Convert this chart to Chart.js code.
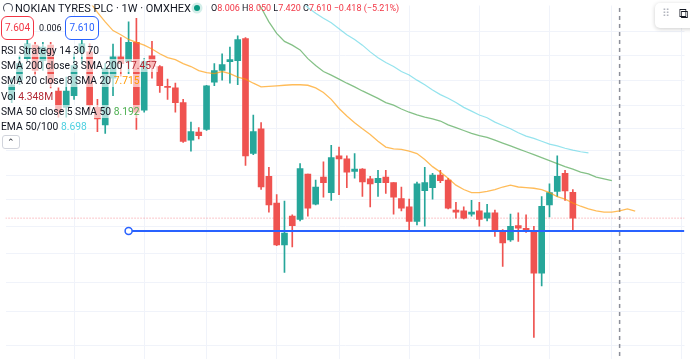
<!DOCTYPE html>
<html>
<head>
<meta charset="utf-8">
<script src="https://cdn.jsdelivr.net/npm/chart.js@4.4.1/dist/chart.umd.min.js"></script>
<style>
  body { margin: 0; background: #fff; font-family: Roboto, "Noto Sans", sans-serif; }
  #wrap { position: relative; width: 690px; height: 364px; overflow: hidden; }
  #chart { position: absolute; left: 0; top: 0; }
  .ov { position: absolute; white-space: nowrap; color: #131722; }
  .logo { left: 3px; top: 3px; width: 10px; height: 10px; border-radius: 50%; background: #fff; border: 1.5px solid #4a4f5c; border-bottom-color: #fff; box-sizing: border-box; }
  .title { left: 15px; top: 1px; font-size: 11px; line-height: 15px; }
  .dot { left: 194px; top: 5px; width: 6px; height: 6px; border-radius: 50%; background: #089981; box-shadow: 0 0 0 2.5px #d3eee9; }
  .ohlc { left: 211px; top: 2px; font-size: 9px; line-height: 13px; }
  .ohlc b { font-weight: normal; color: #131722; }
  .ohlc span { color: #f23645; }
  .box { top: 16px; height: 24px; line-height: 22px; font-size: 10px; border-radius: 6px; text-align: center; box-sizing: border-box; background: #fff; }
  .row { left: 0px; font-size: 10.3px; background: rgba(255,255,255,0.62); padding: 0 1px; line-height: 13px; }
  .btn { left: 2px; top: 135px; width: 18px; height: 14px; border: 1px solid #d1d4dc; border-radius: 3px; box-sizing: border-box; background: #fff; font-size: 9px; text-align: center; line-height: 13px; color: #131722; }
  .widget { left: 655px; top: 3px; width: 50px; height: 25px; border-radius: 5px; background: #fff; box-shadow: 0 1px 4px rgba(0,0,0,0.2); }
</style>
</head>
<body>
<div id="wrap">
  <canvas id="chart" width="690" height="364"></canvas>
  <div class="ov logo"></div>
  <div class="ov title">NOKIAN TYRES PLC · 1W · OMXHEX</div>
  <div class="ov dot"></div>
  <div class="ov ohlc"><b>O</b><span>8.006</span> <b>H</b><span>8.050</span> <b>L</b><span>7.420</span> <b>C</b><span>7.610</span> <span>−0.418 (−5.21%)</span></div>
  <div class="ov box" style="left:1px;width:33px;border:1px solid #f23645;color:#f23645;">7.604</div>
  <div class="ov" style="left:39px;top:16px;line-height:24px;font-size:9px;color:#131722;">0.006</div>
  <div class="ov box" style="left:65px;width:34px;border:1px solid #2962ff;color:#2962ff;">7.610</div>
  <div class="ov row" style="top:44px;">RSI Strategy 14 30 70</div>
  <div class="ov row" style="top:59px;">SMA 200 close 3 SMA 200 <span style="color:#b22833;">17.457</span></div>
  <div class="ov row" style="top:74px;">SMA 20 close 8 SMA 20 <span style="color:#ff9800;">7.715</span></div>
  <div class="ov row" style="top:90px;">Vol <span style="color:#b22833;">4.348M</span></div>
  <div class="ov row" style="top:105px;">SMA 50 close 5 SMA 50 <span style="color:#4caf50;">8.192</span></div>
  <div class="ov row" style="top:120px;">EMA 50/100 <span style="color:#4dd0e1;">8.698</span></div>
  <div class="ov btn">&#8963;</div>
  <div class="ov widget"><span style="position:absolute;left:7px;top:4px;font-size:11px;color:#b2b5be;">⠿</span><span style="position:absolute;left:24px;top:3px;font-size:13px;color:#131722;">⧉</span></div>
</div>
<script>
// weekly candles, oldest first (index = week slot)
const opens  = [9.61,9.98,10.41,10.69,10.37,10.69,9.77,9.46,9.68,10.55,10.55,9.46,9.14,10.02,10.45,10.35,10.75,9.41,10.47,10.25,9.86,9.83,9.55,8.87,9.01,9.06,9.94,10.17,10.35,10.37,10.83,8.64,9.07,8.26,7.84,7.22,7.64,7.59,8.30,7.82,8.25,8.00,8.60,8.55,8.34,8.38,8.22,8.16,8.25,8.16,7.91,7.78,7.56,8.03,8.08,8.28,8.20,7.73,7.72,7.67,7.72,7.61,7.69,7.43,7.29,7.50,7.46,7.43,6.83,7.81,8.02,8.31,8.006];
const highs  = [10.02,10.47,10.87,10.75,10.75,10.75,9.83,10.04,10.51,10.96,10.71,9.61,10.31,10.71,10.85,11.19,11.27,10.41,10.77,10.27,10.00,9.92,9.61,9.19,9.09,9.88,10.31,10.51,10.65,10.89,10.85,9.32,9.18,8.41,7.97,7.87,7.66,8.47,8.30,8.20,8.50,8.78,8.75,8.60,8.64,8.39,8.26,8.36,8.36,8.16,8.09,7.90,8.17,8.41,8.31,8.36,8.23,7.85,7.78,7.88,7.85,7.82,7.73,7.44,7.67,7.69,7.66,7.49,7.94,8.14,8.60,8.36,8.050];
const lows   = [9.55,9.89,10.37,10.08,10.17,9.83,9.28,9.28,9.61,10.31,9.41,9.02,8.99,9.68,10.06,10.11,9.06,9.37,10.02,9.74,9.61,9.37,8.83,8.68,8.89,9.04,9.87,9.98,9.92,9.89,8.44,8.62,8.05,7.70,7.21,6.84,7.19,7.57,7.64,7.81,7.93,7.88,7.97,8.08,8.23,7.94,7.78,7.94,7.99,7.67,7.72,7.41,7.51,7.49,7.90,8.16,7.75,7.61,7.60,7.64,7.49,7.57,7.34,6.92,7.27,7.27,7.40,6.02,6.66,7.63,7.94,7.88,7.420];
const closes = [9.89,10.31,10.71,10.17,10.65,9.92,9.37,9.77,10.27,10.71,9.50,9.25,10.21,10.45,10.31,10.75,9.37,10.35,10.25,9.87,9.84,9.55,8.85,9.02,8.95,9.87,10.17,10.29,10.39,10.81,8.60,9.02,8.09,7.81,7.22,7.39,7.50,8.39,7.76,8.09,8.16,8.57,8.55,8.33,8.38,8.17,8.14,8.23,8.16,7.93,7.76,7.56,8.14,8.16,8.28,8.19,7.76,7.70,7.61,7.70,7.59,7.69,7.44,7.25,7.49,7.46,7.41,6.83,7.79,8.00,8.26,8.028,7.610];

// SMA 20 (offset 8), first value plotted at slot 10
const sma20Start = 10;
const sma20 = [11.65,11.40,11.19,11.00,10.91,10.81,10.75,10.69,10.61,10.51,10.43,10.39,10.31,10.25,10.17,10.13,10.11,10.15,10.11,10.04,10.00,9.92,9.85,9.86,9.87,9.88,9.89,9.89,9.88,9.83,9.74,9.61,9.44,9.30,9.18,9.07,8.97,8.85,8.75,8.72,8.71,8.68,8.64,8.54,8.42,8.33,8.23,8.12,8.05,8.00,8.00,8.02,8.05,8.09,8.12,8.09,8.08,8.07,8.05,8.00,7.94,7.90,7.84,7.79,7.75,7.72,7.70,7.70,7.72,7.75,7.715];
// SMA 50 (offset 5), first value plotted at slot 31
const sma50Start = 31;
const sma50 = [11.69,11.51,11.19,10.94,10.77,10.69,10.59,10.41,10.27,10.15,10.08,10.00,9.92,9.85,9.77,9.70,9.63,9.55,9.50,9.43,9.37,9.32,9.28,9.25,9.21,9.14,9.09,9.04,8.99,8.95,8.92,8.87,8.82,8.77,8.72,8.67,8.62,8.57,8.52,8.47,8.42,8.38,8.33,8.30,8.25,8.22,8.192];
// EMA 50/100, first value plotted at slot 37
const emaStart = 37;
const ema = [11.67,11.51,11.38,11.27,11.17,11.04,10.91,10.81,10.69,10.55,10.43,10.33,10.25,10.15,10.08,9.98,9.89,9.79,9.70,9.63,9.55,9.46,9.39,9.32,9.27,9.19,9.13,9.07,9.00,8.94,8.90,8.85,8.80,8.77,8.73,8.698,8.67,8.65];

const lastPrice = 7.610;     // current price line
const rayPrice = 7.42;       // drawn horizontal ray
const rayStart = 15;
const markerSlot = 78;       // dashed vertical marker
const gridSlots = [8,17,25,34,42,51,60,69,77,86];
const gridPrices = [10.976,10.466,9.980,9.497,9.073,8.684,8.280,7.895,7.488,7.097,6.702,6.330,5.931];

const up = '#26a69a', down = '#ef5350';
const slots = closes.map((c, i) => i);
const colorOf = i => closes[i] >= opens[i] ? up : down;

const wicks = slots.map(i => ({ x: i, y: [lows[i], highs[i]] }));
const bodies = slots.map(i => ({ x: i, y: [opens[i], closes[i]] }));
const toLine = (arr, start) => arr.map((v, k) => ({ x: start + k, y: v }));

const ctx = document.getElementById('chart');

new Chart(ctx, {
    type: 'bar',
    data: {
        datasets: [
            {
                type: 'line', data: [{ x: rayStart, y: rayPrice }, { x: 86.3, y: rayPrice }],
                borderColor: '#2962ff', borderWidth: 2,
                pointRadius: [3.5, 0], pointBorderWidth: 1.5,
                pointBackgroundColor: '#fff', pointBorderColor: '#2962ff', order: 0
            },
            {
                type: 'line', data: toLine(sma20, sma20Start),
                borderColor: 'rgba(255,152,0,0.65)', borderWidth: 1.3, pointRadius: 0, order: 1
            },
            {
                type: 'line', data: toLine(sma50, sma50Start),
                borderColor: 'rgba(67,160,71,0.65)', borderWidth: 1.3, pointRadius: 0, order: 1
            },
            {
                type: 'line', data: toLine(ema, emaStart),
                borderColor: 'rgba(77,208,225,0.6)', borderWidth: 1.2, pointRadius: 0, order: 1
            },
            {
                data: bodies, backgroundColor: slots.map(colorOf),
                barThickness: 6, grouped: false, borderSkipped: false, minBarLength: 1, order: 2
            },
            {
                data: wicks, backgroundColor: slots.map(colorOf),
                barThickness: 1, grouped: false, borderSkipped: false, order: 3
            },
            {
                type: 'line', data: [{ x: -0.79, y: lastPrice }, { x: 86.3, y: lastPrice }],
                borderColor: 'rgba(242,54,69,0.55)', borderWidth: 1, borderDash: [1, 2],
                pointRadius: 0, order: 4
            },
            {
                type: 'line', data: [{ x: markerSlot, y: 11.5 }, { x: markerSlot, y: 5.78 }],
                borderColor: '#8c8f99', borderWidth: 1.5, borderDash: [4, 4],
                pointRadius: 0, order: 5
            }
        ]
    },
    options: {
        responsive: false,
        animation: false,
        layout: { padding: 0 },
        plugins: {
            legend: { display: false },
            tooltip: { enabled: false }
        },
        scales: {
            x: {
                type: 'linear', min: -0.795, max: 86.326, bounds: 'data', offset: false,
                afterBuildTicks: axis => { axis.ticks = gridSlots.map(v => ({ value: v })); },
                ticks: { display: false },
                grid: { color: '#f0f3fa', drawTicks: false, offset: false },
                border: { display: false }
            },
            y: {
                type: 'logarithmic', min: 5.776, max: 11.556, bounds: 'data',
                afterBuildTicks: axis => { axis.ticks = gridPrices.map(v => ({ value: v })); },
                ticks: { display: false },
                grid: { color: '#f0f3fa', drawTicks: false },
                border: { display: false }
            }
        }
    }
});
</script>
</body>
</html>
